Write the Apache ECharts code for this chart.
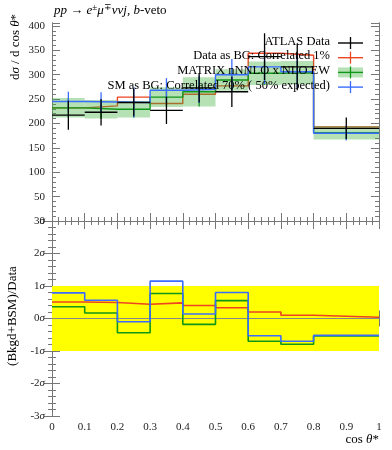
<!DOCTYPE html>
<html><head><meta charset="utf-8">
<script src="https://cdn.jsdelivr.net/npm/echarts@6/dist/echarts.min.js"></script>
<style>html,body{margin:0;padding:0;background:#fff}#c{width:392px;height:450px}</style>
</head><body><div id="c"></div>
<script>
const binEdges = [0, 0.1, 0.2, 0.3, 0.4, 0.5, 0.6, 0.7, 0.8, 1.0];
const atlasData = [217, 223, 243, 227, 273, 265, 337, 316, 190];
const atlasErr = [30, 27, 28, 28, 30, 31, 48, 48, 22];
const dataAsBG = [232, 236, 254, 241, 260, 277, 344, 340, 193];
const dataAsBGErr = [3, 3, 3, 3, 3, 3, 4, 4, 3];
const matrixPred = [232, 229, 229, 254, 265, 289, 303, 304, 181];
const matrixErr = [20, 19, 17, 20, 30, 22, 24, 24, 14];
const smAsBG = [245, 244, 243, 268, 270, 300, 316, 306, 180];
const smAsBGErr = [20, 20, 31, 25, 28, 32, 35, 35, 15];
const ratioDataAsBG = [0.51, 0.49, 0.44, 0.48, 0.40, 0.33, 0.20, 0.10, 0.04];
const ratioMatrix = [0.36, 0.17, -0.44, 0.77, -0.18, 0.55, -0.70, -0.79, -0.54];
const ratioSM = [0.79, 0.56, -0.10, 1.15, 0.14, 0.80, -0.53, -0.70, -0.52];
const topYTicks = [0, 50, 100, 150, 200, 250, 300, 350, 400];
const sigmaTicks = [-3, -2, -1, 0, 1, 2, 3];
const xTicks = [0, 0.1, 0.2, 0.3, 0.4, 0.5, 0.6, 0.7, 0.8, 0.9, 1];

const RED = '#ee4422', GREEN = '#109618', BLUE = '#3a6dff', BLACK = '#000';
const BAND = 'rgba(60,175,60,0.38)';
const FONT = 'Liberation Serif';
const AX = '#777';

function stepData(vals) {
  const d = vals.map((v, i) => [binEdges[i], v]);
  d.push([binEdges[binEdges.length - 1], vals[vals.length - 1]]);
  return d;
}
function stepSeries(vals, color, xi, yi, z, w) {
  return { type: 'line', step: 'end', data: stepData(vals), xAxisIndex: xi, yAxisIndex: yi,
    symbol: 'none', lineStyle: { color, width: w || 1.4 }, z, silent: true, animation: false };
}
function errSeries(vals, errs, color, withH, z) {
  return { type: 'custom', xAxisIndex: 0, yAxisIndex: 0, z, clip: true, animation: false, silent: true,
    data: vals.map((v, i) => [(binEdges[i] + binEdges[i + 1]) / 2, v, errs[i], binEdges[i], binEdges[i + 1]]),
    encode: { x: 0, y: 1 },
    renderItem: (params, api) => {
      const xc = api.value(0), y = api.value(1), e = api.value(2), x0 = api.value(3), x1 = api.value(4);
      const t = api.coord([xc, y + e]), b = api.coord([xc, y - e]);
      const ch = [{ type: 'line', shape: { x1: t[0], y1: t[1], x2: b[0], y2: b[1] }, style: { stroke: color, lineWidth: 1.3 } }];
      if (withH) {
        const a = api.coord([x0, y]), c = api.coord([x1, y]);
        ch.push({ type: 'line', shape: { x1: a[0], y1: a[1], x2: c[0], y2: c[1] }, style: { stroke: color, lineWidth: 1.3 } });
      }
      return { type: 'group', children: ch };
    } };
}
function bandSeries(vals, errs, z) {
  return { type: 'custom', xAxisIndex: 0, yAxisIndex: 0, z, clip: true, animation: false, silent: true,
    data: vals.map((v, i) => [binEdges[i], binEdges[i + 1], v - errs[i], v + errs[i]]),
    encode: { x: [0, 1], y: [2, 3] },
    renderItem: (params, api) => {
      const a = api.coord([api.value(0), api.value(3)]), b = api.coord([api.value(1), api.value(2)]);
      return { type: 'rect', shape: { x: a[0], y: a[1], width: b[0] - a[0], height: b[1] - a[1] }, style: { fill: BAND } };
    } };
}

function xAx(grid, pos, labels) {
  return { type: 'value', gridIndex: grid, position: pos, min: 0, max: 1, interval: 0.1,
    axisLine: { show: true, lineStyle: { color: AX, width: 1 } },
    axisTick: { show: true, inside: true, length: 8, lineStyle: { color: AX } },
    minorTick: { show: true, splitNumber: 5, length: 4, lineStyle: { color: AX } },
    splitLine: { show: false },
    axisLabel: { show: labels, fontFamily: FONT, fontSize: 11, color: '#222', margin: 6,
      formatter: v => { const r = Math.round(v * 10) / 10; return xTicks.includes(r) ? (r === 0 || r === 1 ? String(r) : r.toFixed(1)) : ''; } } };
}
function yTop(pos, major, labels) {
  return { type: 'value', gridIndex: 0, position: pos, min: 0, max: 406, interval: major ? 50 : 10,
    axisLine: { show: true, lineStyle: { color: AX } },
    axisTick: { show: true, inside: true, length: major ? 8 : 4, lineStyle: { color: AX } },
    splitLine: { show: false },
    axisLabel: { show: labels, fontFamily: FONT, fontSize: 11, color: '#222', margin: 7,
      formatter: v => topYTicks.includes(v) ? String(v) : '' } };
}
function yBot(pos, labels) {
  return { type: 'value', gridIndex: 1, position: pos, min: -3, max: 3, interval: 1,
    axisLine: { show: true, lineStyle: { color: AX } },
    axisTick: { show: true, inside: true, length: 8, lineStyle: { color: AX } },
    minorTick: { show: true, splitNumber: 5, length: 4, lineStyle: { color: AX } },
    splitLine: { show: false },
    axisLabel: { show: labels, fontFamily: FONT, fontSize: 11, color: '#222', margin: 7,
      formatter: v => sigmaTicks.includes(v) ? (v < 0 ? '-' + Math.abs(v) : String(v)) + '{s|σ}' : '',
      rich: { s: { fontStyle: 'italic', fontFamily: FONT, fontSize: 11, color: '#222' } } } };
}

const legendRows = [
  { text: 'ATLAS Data', color: BLACK, band: false },
  { text: 'Data as BG: Correlated 1%', color: RED, band: false },
  { text: 'MATRIX nNNLO x NLO EW', color: GREEN, band: true },
  { text: 'SM as BG: Correlated 70% ( 50% expected)', color: BLUE, band: false }
];
const graphics = [];
legendRows.forEach((r, i) => {
  const y = 43 + i * 14.7;
  graphics.push({ type: 'text', right: 62, top: y - 8, z: 100,
    style: { text: r.text, fontFamily: FONT, fontSize: 12.5, fill: '#000' } });
  if (r.band) graphics.push({ type: 'rect', shape: { x: 338, y: y - 5, width: 25, height: 10 }, style: { fill: BAND }, z: 100 });
  graphics.push({ type: 'line', shape: { x1: 338, y1: y, x2: 363, y2: y }, style: { stroke: r.color, lineWidth: 1.4 }, z: 101 });
  graphics.push({ type: 'line', shape: { x1: 350.5, y1: y - 6, x2: 350.5, y2: y + 6 }, style: { stroke: r.color, lineWidth: 1.3 }, z: 101 });
});
graphics.push({ type: 'text', left: 54, top: 3, z: 100, style: {
  text: '{i|pp} → {i|e}{u|±}{i|μ}{u|∓}{i|ννj}, {i|b}-veto', fontFamily: FONT, fontSize: 13, fill: '#000',
  rich: { i: { fontStyle: 'italic', fontFamily: FONT, fontSize: 13 }, u: { fontSize: 9, fontFamily: FONT, verticalAlign: 'top', padding: [0, 0, 6, 0] } } } });
graphics.push({ type: 'text', x: 16, y: 47, rotation: Math.PI / 2, z: 100, style: {
  text: 'd{i|σ} / d cos {i|θ}*', fontFamily: FONT, fontSize: 13, fill: '#000', align: 'center', verticalAlign: 'middle',
  rich: { i: { fontStyle: 'italic', fontFamily: FONT, fontSize: 13 } } } });
graphics.push({ type: 'text', x: 13, y: 316, rotation: Math.PI / 2, z: 100, style: {
  text: '(Bkgd+BSM)/Data', fontFamily: FONT, fontSize: 13, fill: '#000', align: 'center', verticalAlign: 'middle' } });
graphics.push({ type: 'text', right: 13, top: 433, z: 100, style: {
  text: 'cos {i|θ}*', fontFamily: FONT, fontSize: 13, fill: '#000',
  rich: { i: { fontStyle: 'italic', fontFamily: FONT, fontSize: 13 } } } });

const chart = echarts.init(document.getElementById('c'), null, { renderer: 'canvas' });
chart.setOption({
  animation: false,
  backgroundColor: '#fff',
  grid: [{ left: 52, right: 13, top: 23, height: 198 }, { left: 52, right: 13, top: 221, height: 195 }],
  xAxis: [xAx(0, 'bottom', false), xAx(0, 'top', false), xAx(1, 'bottom', true), xAx(1, 'top', false)],
  yAxis: [yTop('left', true, true), yTop('left', false, false), yTop('right', true, false), yTop('right', false, false),
          yBot('left', true), yBot('right', false)],
  graphic: graphics,
  series: [
    stepSeries(dataAsBG, RED, 0, 0, 2),
    errSeries(dataAsBG, dataAsBGErr, RED, false, 2),
    bandSeries(matrixPred, matrixErr, 3),
    stepSeries(matrixPred, GREEN, 0, 0, 4),
    errSeries(matrixPred, matrixErr, GREEN, false, 4),
    stepSeries(smAsBG, BLUE, 0, 0, 5),
    errSeries(smAsBG, smAsBGErr, BLUE, false, 5),
    errSeries(atlasData, atlasErr, BLACK, true, 6),
    { type: 'line', xAxisIndex: 2, yAxisIndex: 4, data: [[0, 0], [1, 0]], symbol: 'none', silent: true, z: 1,
      lineStyle: { color: '#888', width: 1 },
      markArea: { silent: true, itemStyle: { color: '#ffff00' }, data: [[{ xAxis: 0, yAxis: -1 }, { xAxis: 1, yAxis: 1 }]] } },
    stepSeries(ratioDataAsBG, RED, 2, 4, 3, 1.6),
    stepSeries(ratioMatrix, GREEN, 2, 4, 4, 1.6),
    stepSeries(ratioSM, BLUE, 2, 4, 5, 1.6)
  ]
});
</script></body></html>
